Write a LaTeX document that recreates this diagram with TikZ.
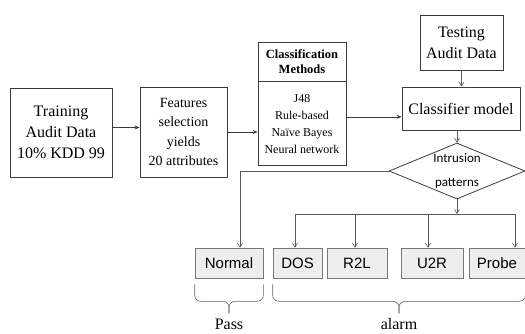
\documentclass[tikz,border=0pt]{standalone}
\usepackage{fontspec}
\setmainfont{Liberation Serif}
\setsansfont{Liberation Sans}
\newfontfamily\calibrifont{Carlito}
\usepackage{tikz}
\usetikzlibrary{shapes.geometric, arrows.meta, positioning, calc}
\definecolor{boxline}{RGB}{60,60,60}
\definecolor{classfill}{RGB}{238,238,238}
\definecolor{classline}{RGB}{120,120,120}

\begin{document}
\begin{tikzpicture}[
    x=1pt, y=-1pt,
    stage/.style={draw=boxline, line width=0.8pt, align=center, inner sep=0pt},
    attack/.style={draw=classline, fill=classfill, line width=0.6pt, minimum height=30pt, inner sep=0pt, font=\sffamily\fontsize{15}{18}\selectfont},
    flow/.style={-{Stealth[length=5pt,width=4pt]}, draw=boxline, line width=0.6pt},
    branch/.style={-{Straight Barb[length=4pt,width=5pt]}, draw=black!65, line width=0.6pt},
    bracket/.style={draw=black!60, line width=0.6pt, rounded corners=6pt}
]
    \useasboundingbox (0,0) rectangle (525,333);

    % Training and features
    \node[stage, minimum width=102pt, minimum height=89pt, font=\fontsize{16}{21}\selectfont] (train) at (61,132.5) {Training\\Audit Data\\10\% KDD 99};
    \node[stage, minimum width=87pt, minimum height=90pt, font=\fontsize{14}{19.5}\selectfont] (feat) at (183.5,132) {Features\\selection\\yields\\20 attributes};

    % Classification methods
    \node[stage, minimum width=88pt, minimum height=39pt, font=\bfseries\fontsize{12.5}{15}\selectfont] (clshead) at (302,61.5) {Classification\\Methods};
    \node[stage, minimum width=88pt, minimum height=84pt, font=\fontsize{12}{17}\selectfont, below=0pt of clshead] (clsbody) {J48\\Rule-based\\Naïve Bayes\\Neural network};

    % Testing and model
    \node[stage, minimum width=83pt, minimum height=55pt, font=\fontsize{16}{21}\selectfont] (test) at (461.5,42.5) {Testing\\Audit Data};
    \node[stage, minimum width=118pt, minimum height=43pt, font=\fontsize{16}{21}\selectfont] (model) at (461,108.5) {Classifier model};
    \node[diamond, draw=boxline, line width=0.8pt, minimum width=136pt, minimum height=56pt, inner sep=0pt,
          label={[font=\calibrifont\fontsize{13}{24}\selectfont, align=center]center:Intrusion\\patterns}] (intr) at (457,171) {};

    % Outcomes
    \node[attack, minimum width=68pt] (normal) at (229,263) {Normal};
    \node[attack, minimum width=49pt] (dos) at (297.5,263) {DOS};
    \node[attack, minimum width=60pt] (r2l) at (357,263) {R2L};
    \node[attack, minimum width=62pt] (u2r) at (432,263) {U2R};
    \node[attack, minimum width=56pt] (probe) at (497,263) {Probe};

    % Connections
    \draw[flow] ([yshift=5pt]train.east) -- ([yshift=5pt]train.east -| feat.west);
    \draw[flow] (feat.east) -- (feat.east -| clsbody.west);
    \draw[flow] ([yshift=7pt]clsbody.east) -- ([yshift=7pt]clsbody.east -| model.west);
    \draw[branch] (test.south) -- (test.south |- model.north);
    \draw[branch] (intr.north |- model.south) -- (intr.north);

    \draw[branch] (intr.west) -| ([xshift=11pt]normal.north);
    \coordinate (split) at (457,214);
    \draw[branch] (intr.south) -- (split);
    \draw[branch] (split) -| ([xshift=-2.5pt]dos.north);
    \draw[branch] (split) -| ([xshift=-2pt]r2l.north);
    \draw[branch] (split) -| ([xshift=-4pt]u2r.north);
    \draw[branch] (split) -| ([xshift=18pt]probe.north);

    % Braces
    \coordinate (pl) at ([yshift=-6pt]normal.south west);
    \coordinate (pr) at ([yshift=-6pt]normal.south east);
    \coordinate (pm) at ($(pl)!0.5!(pr)+(0,17)$);
    \draw[bracket] (pl) |- (pm) -- ++(0,12);
    \draw[bracket] (pr) |- (pm) -- ++(0,12);
    \node[anchor=base, font=\fontsize{16}{19}\selectfont] (pass) at (229,329) {Pass};

    \coordinate (al) at ([yshift=-6pt]dos.south west);
    \coordinate (ar) at ([yshift=-6pt]probe.south east);
    \coordinate (am) at ($(al)!0.5!(ar)+(0,17)$);
    \draw[bracket] (al) |- (am) -- ++(0,12);
    \draw[bracket] (ar) |- (am) -- ++(0,12);
    \node[anchor=base, font=\fontsize{16}{19}\selectfont] (alarm) at (399,329) {alarm};
\end{tikzpicture}
\end{document}
